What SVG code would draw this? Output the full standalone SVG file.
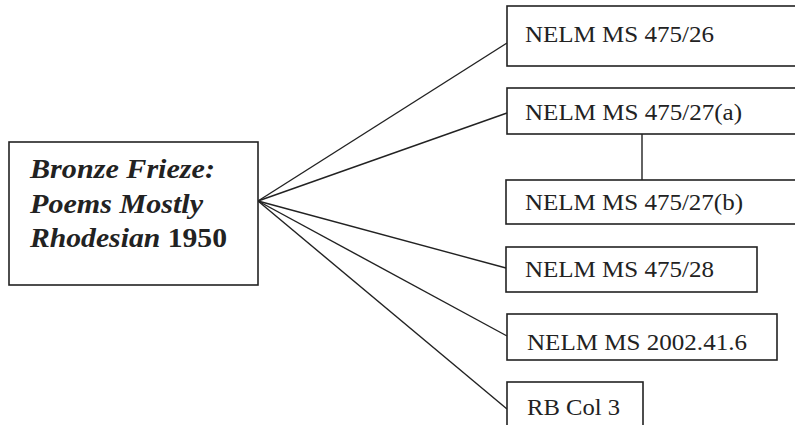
<svg xmlns="http://www.w3.org/2000/svg" width="795" height="425" viewBox="0 0 795 425">
<style>
.box{fill:#fff;stroke:#222;stroke-width:1.6}
.t{font-family:"Liberation Serif","Times New Roman",serif;font-size:24px;fill:#222}
.lt{font-family:"Liberation Serif","Times New Roman",serif;font-size:27px;font-weight:bold;fill:#222}
.c{stroke:#222;stroke-width:1.4;fill:none}
</style>
<rect width="795" height="425" fill="#fff"/>
<g id="connectors">
<line class="c" x1="258" y1="201" x2="507" y2="43"/>
<line class="c" x1="258" y1="201" x2="507" y2="113"/>
<line class="c" x1="258" y1="201" x2="506" y2="268"/>
<line class="c" x1="258" y1="201" x2="507" y2="336"/>
<line class="c" x1="258" y1="201" x2="507" y2="409"/>
<line class="c" x1="642" y1="134" x2="642" y2="180"/>
</g>
<g id="source">
<rect class="box" x="9" y="142" width="249" height="143"/>
<text class="lt" x="30" y="178" textLength="185" lengthAdjust="spacingAndGlyphs" font-style="italic">Bronze Frieze:</text>
<text class="lt" x="30" y="213" textLength="173" lengthAdjust="spacingAndGlyphs" font-style="italic">Poems Mostly</text>
<text class="lt" x="30" y="247" textLength="197" lengthAdjust="spacingAndGlyphs"><tspan font-style="italic">Rhodesian</tspan> 1950</text>
</g>
<g id="n1">
<rect class="box" x="507" y="6" width="300" height="60"/>
<text class="t" x="525" y="42" textLength="189" lengthAdjust="spacingAndGlyphs">NELM MS 475/26</text>
</g>
<g id="n2">
<rect class="box" x="507" y="88" width="300" height="46"/>
<text class="t" x="525" y="120" textLength="217" lengthAdjust="spacingAndGlyphs">NELM MS 475/27(a)</text>
</g>
<g id="n3">
<rect class="box" x="506" y="180" width="300" height="44"/>
<text class="t" x="525" y="210" textLength="218" lengthAdjust="spacingAndGlyphs">NELM MS 475/27(b)</text>
</g>
<g id="n4">
<rect class="box" x="506" y="247" width="251" height="45"/>
<text class="t" x="525" y="277" textLength="189" lengthAdjust="spacingAndGlyphs">NELM MS 475/28</text>
</g>
<g id="n5">
<rect class="box" x="507" y="314" width="270" height="46"/>
<text class="t" x="527" y="350" textLength="220" lengthAdjust="spacingAndGlyphs">NELM MS 2002.41.6</text>
</g>
<g id="n6">
<rect class="box" x="507" y="382" width="136" height="60"/>
<text class="t" x="527" y="415" textLength="93" lengthAdjust="spacingAndGlyphs">RB Col 3</text>
</g>
</svg>
